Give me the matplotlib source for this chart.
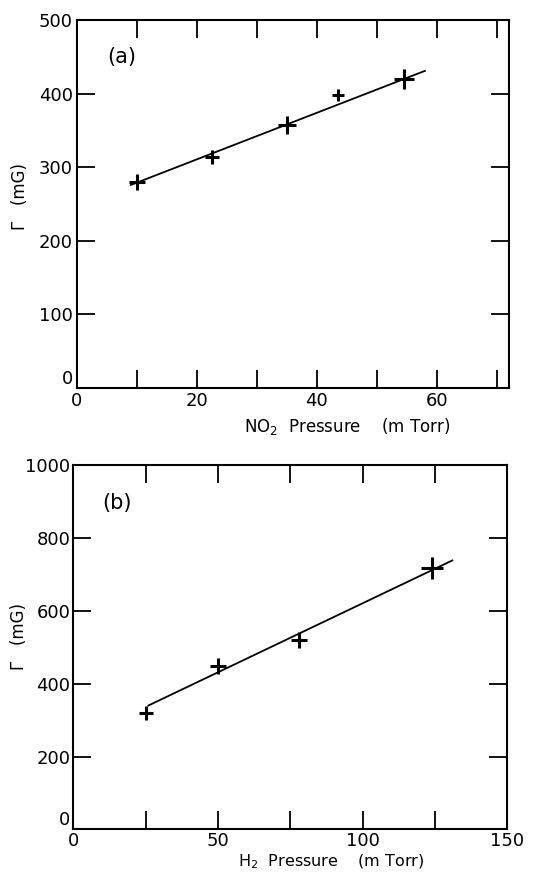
import matplotlib
matplotlib.use("Agg")
import matplotlib.pyplot as plt

# Panel (a): NO2 pressure
no2_pressure = [10, 22.5, 35, 43.5, 54.5]
gamma_a = [280, 314, 358, 398, 420]
fit_a_x = [9, 58]
fit_a_y = [276, 431]
marker_size_a = [11, 10, 13, 9, 14]

# Panel (b): H2 pressure
h2_pressure = [25, 50, 78, 124]
gamma_b = [320, 448, 520, 718]
fit_b_x = [26, 131]
fit_b_y = [340, 738]
marker_size_b = [10, 12, 12, 16]

plt.rcParams['font.family'] = ['DejaVu Sans']

W, H = 534, 874
fig = plt.figure(figsize=(5.34, 8.74), dpi=100)

ax1 = fig.add_axes([0.144, 0.556, 0.809, 0.421])
ax2 = fig.add_axes([0.137, 0.051, 0.813, 0.417])

def style(ax, xlim, ylim, xticks, xlabels, yticks, pad):
    ax.set_xlim(*xlim)
    ax.set_ylim(*ylim)
    ax.set_xticks(xticks)
    ax.set_xticklabels(xlabels)
    ax.set_yticks(yticks)
    ax.tick_params(direction='in', length=13, width=1.3, top=True, right=True,
                   labelsize=13, pad=pad, colors='black')
    for s in ax.spines.values():
        s.set_linewidth(1.5)
    # the "0" label of the y axis sits slightly above the corner
    ax.get_yticklabels()[0].set_va('bottom')

# Panel (a)
ax1.plot(fit_a_x, fit_a_y, color='black', lw=1.3)
for x, y, s in zip(no2_pressure, gamma_a, marker_size_a):
    ax1.plot(x, y, marker='+', color='black', markersize=s, mew=2.2, ls='none')
xt_a = list(range(0, 80, 10))
style(ax1, (0, 72), (0, 500), xt_a,
      [str(v) if v % 20 == 0 else '' for v in xt_a], range(0, 501, 100), 3)
ax1.text(5, 450, '(a)', fontsize=15, ha='left', va='center')

# Panel (b)
ax2.plot(fit_b_x, fit_b_y, color='black', lw=1.3)
for x, y, s in zip(h2_pressure, gamma_b, marker_size_b):
    ax2.plot(x, y, marker='+', color='black', markersize=s, mew=2.2, ls='none')
xt_b = list(range(0, 151, 25))
style(ax2, (0, 150), (0, 1000), xt_b,
      [str(v) if v % 50 == 0 else '' for v in xt_b], range(0, 1001, 200), 2)
ax2.text(10, 895, '(b)', fontsize=15, ha='left', va='center')

# axis labels placed in pixel positions
def ftext(px, py, s, **kw):
    fig.text(px / W, 1 - py / H, s, ha='center', va='center', **kw)

ftext(347, 427, r'NO$_\mathregular{2}$  Pressure    (m Torr)', fontsize=12)
ftext(331, 862, r'H$_\mathregular{2}$  Pressure    (m Torr)', fontsize=11.5)
ftext(20, 197, 'Γ   (mG)', fontsize=12, rotation=90)
ftext(19, 637, 'Γ   (mG)', fontsize=12, rotation=90)

fig.savefig('out.png', dpi=100)
